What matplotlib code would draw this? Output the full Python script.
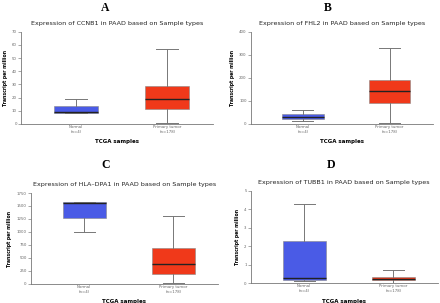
import matplotlib
matplotlib.use("Agg")
import matplotlib.pyplot as plt

# sample groups
groups = ["Normal\n(n=4)", "Primary tumor\n(n=178)"]

# box stats per gene: [whislo, q1, median, q3, whishi] for Normal, Tumor
ccnb1_normal = [8, 8.5, 9, 14, 19]
ccnb1_tumor = [1, 11, 19, 29, 57]
fhl2_normal = [12, 22, 30, 45, 60]
fhl2_tumor = [3, 90, 143, 190, 328]
hla_normal = [990, 1260, 1550, 1570, 1580]
hla_tumor = [10, 200, 390, 690, 1310]
tubb1_normal = [0.12, 0.17, 0.25, 2.27, 4.3]
tubb1_tumor = [0.02, 0.17, 0.23, 0.30, 0.68]

genes = ["CCNB1", "FHL2", "HLA\u2013DPA1", "TUBB1"]
letters = ["A", "B", "C", "D"]
ymax = [70, 400, 1750, 5]
ystep = [10, 100, 250, 1]

colors = ["#4a5be6", "#f0391a"]

fig = plt.figure(figsize=(4.4, 3.03), dpi=100)

# axes rectangles in figure fractions
rects = [
    [0.048, 0.591, 0.436, 0.304],
    [0.570, 0.591, 0.414, 0.304],
    [0.070, 0.063, 0.425, 0.300],
    [0.570, 0.066, 0.425, 0.304],
]
letter_x = [0.239, 0.745, 0.239, 0.752]
letter_y = [0.975, 0.975, 0.455, 0.455]

data = [
    (ccnb1_normal, ccnb1_tumor),
    (fhl2_normal, fhl2_tumor),
    (hla_normal, hla_tumor),
    (tubb1_normal, tubb1_tumor),
]


def to_stats(vals, label):
    lo, q1, med, q3, hi = vals
    return {"whislo": lo, "q1": q1, "med": med, "q3": q3, "whishi": hi,
            "fliers": [], "label": label}


for i in range(4):
    ax = fig.add_axes(rects[i])
    stats = [to_stats(data[i][0], groups[0]), to_stats(data[i][1], groups[1])]
    bp = ax.bxp(stats, positions=[1, 2], widths=0.48, patch_artist=True,
                showfliers=False,
                boxprops=dict(linewidth=0.4, edgecolor="#888888"),
                medianprops=dict(color="#222222", linewidth=1.0),
                whiskerprops=dict(color="#777777", linewidth=0.7),
                capprops=dict(color="#777777", linewidth=0.7))
    for patch, c in zip(bp["boxes"], colors):
        patch.set_facecolor(c)

    ax.set_xlim(0.4, 2.5)
    ax.set_ylim(0, ymax[i])
    ticks = [k * ystep[i] for k in range(int(round(ymax[i] / ystep[i])) + 1)]
    ax.set_yticks(ticks)
    ax.tick_params(axis="both", labelsize=2.8, colors="#666666",
                   length=2, width=0.4, pad=1)
    ax.tick_params(axis="x", length=0)
    for s in ["top", "right"]:
        ax.spines[s].set_visible(False)
    for s in ["left", "bottom"]:
        ax.spines[s].set_color("#777777")
        ax.spines[s].set_linewidth(0.6)

    ax.set_title("Expression of %s in PAAD based on Sample types" % genes[i],
                 fontsize=4.6, color="#222222", pad=5)
    ax.set_xlabel("TCGA samples", fontsize=4, fontweight="bold", labelpad=4)
    ax.set_ylabel("Transcript per million", fontsize=3.3, fontweight="bold",
                  labelpad=3)

    fig.text(letter_x[i], letter_y[i], letters[i], fontsize=8.5,
             fontweight="bold", family="Liberation Serif",
             ha="center", va="center")

fig.savefig("out.png", dpi=100)
